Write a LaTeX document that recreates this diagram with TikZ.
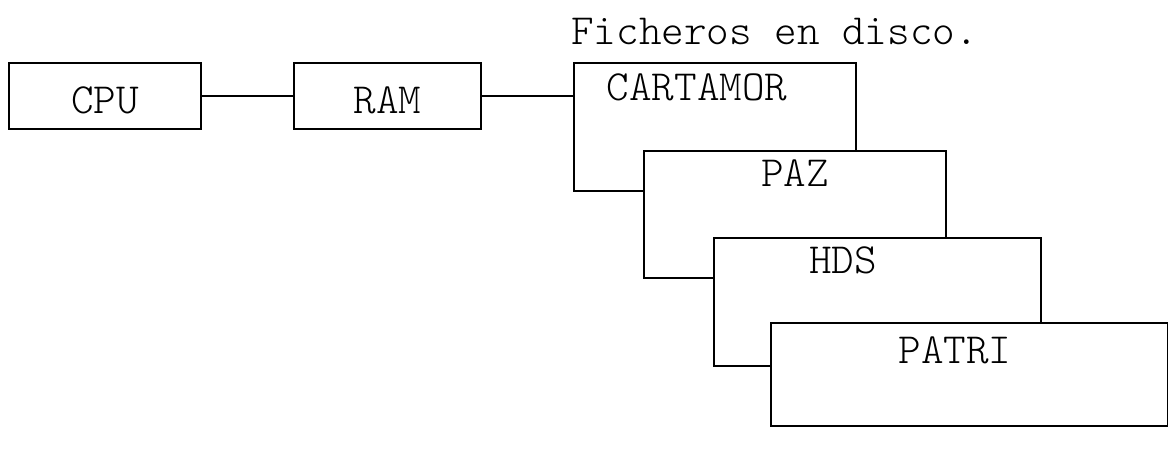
\documentclass[tikz,border=0pt]{standalone}
\begin{document}
\begin{tikzpicture}[x=0.5pt,y=-0.5pt,
  box/.style={draw,line width=1pt,fill=white,inner sep=0pt,anchor=north west},
  lbl/.style={font=\ttfamily\fontseries{l}\fontsize{21.5}{23}\selectfont,inner sep=0pt},
  wire/.style={line width=1pt}]
\useasboundingbox (0,0) rectangle (1168,453);
% processor and memory
\node[box,minimum width=192*0.5pt,minimum height=66*0.5pt] (cpu) at (8,62) {};
\node[box,minimum width=187*0.5pt,minimum height=66*0.5pt] (ram) at (293,62) {};
\node[lbl] (cpulbl) at ([yshift=-2pt]cpu.center) {CPU};
\node[lbl] (ramlbl) at ([yshift=-2pt]ram.center) {RAM};
% stacked files on disk
\node[box,minimum width=282*0.5pt,minimum height=128*0.5pt] (cart) at (573,62) {};
\node[lbl] (cartlbl) at (697,87) {CARTAMOR};
\node[box,minimum width=302*0.5pt,minimum height=127*0.5pt] (paz) at (643,150) {};
\node[lbl] (pazlbl) at (795,173) {PAZ};
\node[box,minimum width=327*0.5pt,minimum height=128*0.5pt] (hds) at (713,237) {};
\node[lbl] (hdslbl) at (843,260) {HDS};
\node[box,minimum width=397*0.5pt,minimum height=103*0.5pt] (patri) at (770,322) {};
\node[lbl] (patrilbl) at (955,350) {PATRI};
\node[lbl,anchor=west] (title) at (571,31) {Ficheros en disco.};
% links
\draw[wire] (cpu.east) -- (ram.west);
\draw[wire] (ram.east) -- (ram.east -| cart.west);
\end{tikzpicture}
\end{document}
